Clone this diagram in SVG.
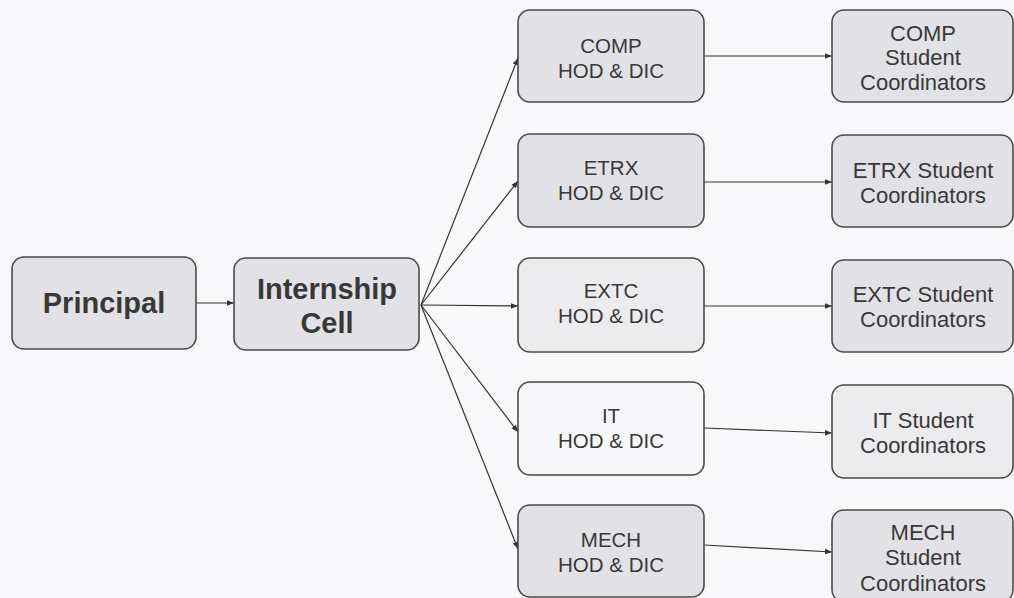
<svg xmlns="http://www.w3.org/2000/svg" width="1014" height="598" viewBox="0 0 1014 598">
<defs>
<marker id="ah" viewBox="0 0 10 10" refX="10" refY="5" markerWidth="7" markerHeight="7" orient="auto" markerUnits="userSpaceOnUse">
<path d="M0,1 L10,5 L0,9 z" fill="#333"/>
</marker>
</defs>
<style>
.box{fill:#e2e2e6;stroke:#4a4a4a;stroke-width:1.6}
.lt{fill:#ececef}
.wh{fill:#f7f7f9}
text{font-family:Arial,"Liberation Sans",Helvetica,sans-serif;fill:#383838;text-anchor:middle}
.big{font-weight:bold;font-size:29px}
.t{font-size:20.5px}
.s{font-size:22px}
.c{stroke:#333;stroke-width:1.2;fill:none;marker-end:url(#ah)}
</style>
<rect width="1014" height="598" fill="#f8f8fa"/>
<g id="connectors">
<line class="c" x1="196" y1="303" x2="234" y2="303"/>
<line class="c" x1="421" y1="305" x2="518" y2="58"/>
<line class="c" x1="421" y1="305" x2="518" y2="181"/>
<line class="c" x1="421" y1="305" x2="518" y2="306"/>
<line class="c" x1="421" y1="305" x2="518" y2="432"/>
<line class="c" x1="421" y1="305" x2="518" y2="549"/>
<line class="c" x1="704" y1="56" x2="832" y2="56"/>
<line class="c" x1="704" y1="182" x2="832" y2="182"/>
<line class="c" x1="704" y1="306" x2="832" y2="306"/>
<line class="c" x1="704" y1="428" x2="832" y2="433"/>
<line class="c" x1="704" y1="545" x2="832" y2="552"/>
</g>
<g id="principal"><rect class="box" x="12" y="257" width="184" height="92" rx="12"/><text class="big" x="104" y="313">Principal</text></g>
<g id="internship-cell"><rect class="box" x="234" y="258" width="185" height="92" rx="12"/><text class="big" x="327" y="299">Internship</text><text class="big" x="327" y="333">Cell</text></g>
<g id="comp-hod"><rect class="box" x="518" y="10" width="186" height="92" rx="12"/><text class="t" x="611" y="53">COMP</text><text class="t" x="611" y="78">HOD &amp; DIC</text></g>
<g id="etrx-hod"><rect class="box" x="518" y="134" width="186" height="93" rx="12"/><text class="t" x="611" y="175">ETRX</text><text class="t" x="611" y="200">HOD &amp; DIC</text></g>
<g id="extc-hod"><rect class="box lt" x="518" y="258" width="186" height="94" rx="12"/><text class="t" x="611" y="298">EXTC</text><text class="t" x="611" y="323">HOD &amp; DIC</text></g>
<g id="it-hod"><rect class="box wh" x="518" y="382" width="186" height="93" rx="12"/><text class="t" x="611" y="423">IT</text><text class="t" x="611" y="448">HOD &amp; DIC</text></g>
<g id="mech-hod"><rect class="box" x="518" y="505" width="186" height="92" rx="12"/><text class="t" x="611" y="547">MECH</text><text class="t" x="611" y="572">HOD &amp; DIC</text></g>
<g id="comp-sc"><rect class="box" x="832" y="10" width="181" height="92" rx="12"/><text class="s" x="923" y="41">COMP</text><text class="s" x="923" y="65">Student</text><text class="s" x="923" y="90">Coordinators</text></g>
<g id="etrx-sc"><rect class="box" x="832" y="135" width="181" height="92" rx="12"/><text class="s" x="923" y="178">ETRX Student</text><text class="s" x="923" y="203">Coordinators</text></g>
<g id="extc-sc"><rect class="box" x="832" y="260" width="181" height="92" rx="12"/><text class="s" x="923" y="302">EXTC Student</text><text class="s" x="923" y="327">Coordinators</text></g>
<g id="it-sc"><rect class="box lt" x="832" y="385" width="181" height="93" rx="12"/><text class="s" x="923" y="428">IT Student</text><text class="s" x="923" y="453">Coordinators</text></g>
<g id="mech-sc"><rect class="box" x="832" y="510" width="181" height="92" rx="12"/><text class="s" x="923" y="540">MECH</text><text class="s" x="923" y="565">Student</text><text class="s" x="923" y="591">Coordinators</text></g>
</svg>
